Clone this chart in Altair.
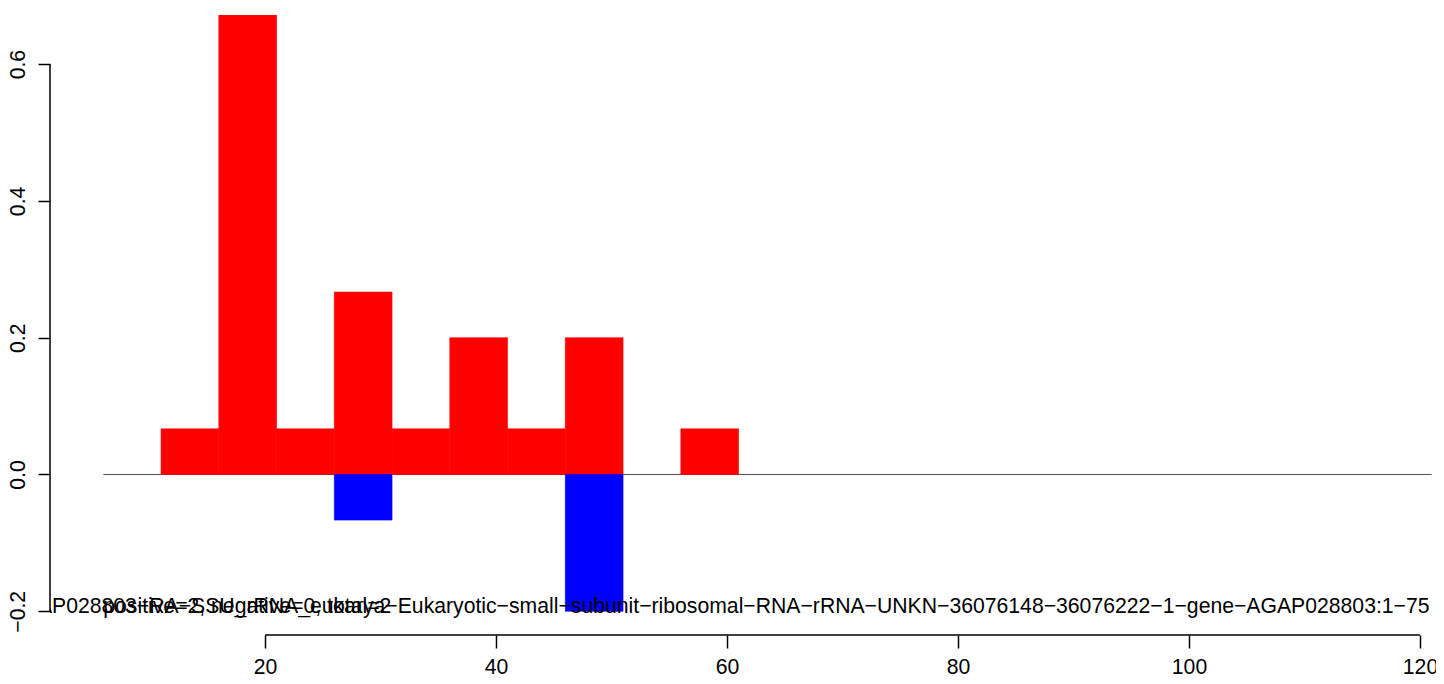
import altair as alt
import pandas as pd

# ---- data ----
bin_start = [11, 16, 21, 26, 31, 36, 41, 46, 51, 56]
bin_end = [16, 21, 26, 31, 36, 41, 46, 51, 56, 61]
positive_vals = [0.0667, 0.672, 0.0667, 0.2667, 0.0667, 0.2, 0.0667, 0.2, 0.0, 0.0667]
negative_vals = [0.0, 0.0, 0.0, -0.0667, 0.0, 0.0, 0.0, -0.2, 0.0, 0.0]
x_ticks = [20, 40, 60, 80, 100, 120]
y_ticks = [-0.2, 0.0, 0.2, 0.4, 0.6]
baseline_from = [6]
baseline_to = [121]
summary_label = ["positive=2, negative=0, total=2"]
feature_label = ["AGAP028803\u2212RA\u2212SSU_rRNA_eukarya\u2212Eukaryotic\u2212small\u2212subunit\u2212ribosomal\u2212RNA\u2212rRNA\u2212UNKN\u221236076148\u221236076222\u22121\u2212gene\u2212AGAP028803:1\u221275"]
label_y = [-0.2]

FONT = "Liberation Sans"
FS = 21.2
W, H = 1386, 620
x_dom = [1.3853, 121.3853]
y_dom = [-0.2347, 0.6718]

xs = alt.Scale(domain=x_dom, nice=False, zero=False)
ys = alt.Scale(domain=y_dom, nice=False, zero=False)

y_ax = alt.Axis(
    values=y_ticks, format=".1f", domain=False, grid=False, title=None,
    tickSize=12, tickWidth=1.5, tickColor="black",
    labelAngle=270, labelAlign="center", labelBaseline="alphabetic",
    labelPadding=14, labelFont=FONT, labelFontSize=FS, labelColor="black")
x_ax = alt.Axis(
    values=x_ticks, format="d", domain=False, grid=False, title=None,
    tickSize=13, tickWidth=1.5, tickColor="black",
    labelPadding=8, labelFont=FONT, labelFontSize=FS, labelColor="black",
    labelBaseline="top")

bars = pd.DataFrame({"start": bin_start, "end": bin_end,
                     "pos": positive_vals, "neg": negative_vals})
pos_df = bars[bars["pos"] != 0]
neg_df = bars[bars["neg"] != 0]

zero_line = alt.Chart(pd.DataFrame({"a": baseline_from, "b": baseline_to, "y": [0.0]})).mark_rule(
    color="#4D4D4D", strokeWidth=1).encode(
    x=alt.X("a:Q", scale=xs, axis=x_ax), x2="b:Q",
    y=alt.Y("y:Q", scale=ys, axis=y_ax),
)

red = alt.Chart(pos_df).mark_rect(color="#FF0000", stroke="#FF0000", strokeWidth=0.6, clip=True).encode(
    x=alt.X("start:Q", scale=xs, axis=x_ax),
    x2="end:Q",
    y=alt.Y("pos:Q", scale=ys, axis=y_ax),
    y2=alt.datum(0),
)
blue = alt.Chart(neg_df).mark_rect(color="#0000FF", stroke="#0000FF", strokeWidth=0.6, clip=True).encode(
    x=alt.X("start:Q", scale=xs, axis=x_ax),
    x2="end:Q",
    y=alt.Y("neg:Q", scale=ys, axis=y_ax),
    y2=alt.datum(0),
)

y_axis_line = alt.Chart(pd.DataFrame({"lo": [min(y_ticks)], "hi": [max(y_ticks)]})).mark_rule(
    color="black", strokeWidth=1.5).encode(
    x=alt.value(0),
    y=alt.Y("lo:Q", scale=ys, axis=y_ax),
    y2="hi:Q",
)

x_axis_line = alt.Chart(pd.DataFrame({"lo": [min(x_ticks)], "hi": [max(x_ticks)]})).mark_rule(
    color="black", strokeWidth=1.5).encode(
    y=alt.value(H),
    x=alt.X("lo:Q", scale=xs, axis=x_ax),
    x2="hi:Q",
)

txt1 = alt.Chart(pd.DataFrame({"x": baseline_from, "y": label_y, "t": summary_label})).mark_text(
    align="left", baseline="alphabetic", dy=2, font=FONT, fontSize=FS, color="black", clip=True).encode(
    x=alt.X("x:Q", scale=xs, axis=x_ax),
    y=alt.Y("y:Q", scale=ys, axis=y_ax),
    text="t:N",
)
txt2 = alt.Chart(pd.DataFrame({"x": baseline_to, "y": label_y, "t": feature_label})).mark_text(
    align="right", baseline="alphabetic", dy=2, dx=-2, font=FONT, fontSize=FS, color="black", clip=True).encode(
    x=alt.X("x:Q", scale=xs, axis=x_ax),
    y=alt.Y("y:Q", scale=ys, axis=y_ax),
    text="t:N",
)

chart = alt.layer(zero_line, red, blue, y_axis_line, x_axis_line, txt1, txt2).properties(
    width=W, height=H,
    autosize=alt.AutoSizeParams(type="none"),
    padding={"left": 42, "top": 7, "right": 0, "bottom": 41},
).configure(background="white").configure_view(strokeWidth=0, stroke=None)

chart.save("out.html", embed_options={"renderer": "svg", "actions": False})
